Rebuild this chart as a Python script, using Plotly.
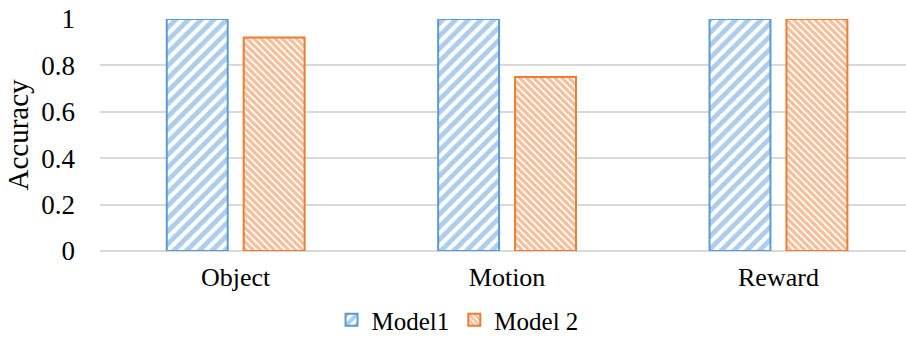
import plotly.graph_objects as go

categories = ["Object", "Motion", "Reward"]
model1 = [1.0, 1.0, 1.0]
model2 = [0.92, 0.75, 1.0]
y_ticks = [0, 0.2, 0.4, 0.6, 0.8, 1]
y_tick_labels = ["0", "0.2", "0.4", "0.6", "0.8", "1"]

BLUE = "#5B9BD5"
ORANGE = "#ED7D31"
FONT = "Liberation Serif"
XF = dict(family=FONT, size=26, color="#000000")
LF = dict(family=FONT, size=25, color="#000000")
YF = dict(family=FONT, size=27, color="#000000")
TF = dict(family=FONT, size=29, color="#000000")

fig = go.Figure()
fig.add_trace(go.Bar(
    x=categories, y=model1, name="Model1",
    marker=dict(color="white", line=dict(color=BLUE, width=2),
                pattern=dict(shape="/", fgcolor=BLUE, bgcolor="white",
                             size=9, solidity=0.55, fillmode="overlay")),
))
fig.add_trace(go.Bar(
    x=categories, y=model2, name="Model 2",
    marker=dict(color="white", line=dict(color=ORANGE, width=2),
                pattern=dict(shape="\\", fgcolor=ORANGE, bgcolor="white",
                             size=5, solidity=0.65, fillmode="overlay")),
))

fig.update_layout(
    width=906, height=346,
    margin=dict(l=100, r=0, t=19, b=95, autoexpand=False),
    paper_bgcolor="white", plot_bgcolor="white",
    barmode="group", bargap=0.433, bargroupgap=0.208,
    font=XF,
    showlegend=True,
    legend=dict(orientation="h", xref="container", yref="container",
                x=0.505, xanchor="center", y=0.075, yanchor="middle",
                font=LF, itemwidth=30, traceorder="normal"),
)
fig.update_xaxes(range=[-0.5, 2.47], showgrid=False, showline=False,
                 ticks="", ticklabelstandoff=8, automargin=False, tickfont=XF)
fig.update_yaxes(range=[0, 1], tickvals=y_ticks, ticktext=y_tick_labels,
                 showgrid=True, gridcolor="#D9D9D9", gridwidth=1.5,
                 zeroline=True, zerolinecolor="#D9D9D9", zerolinewidth=1.5,
                 showline=False, ticks="", ticklabelstandoff=24,
                 automargin=False, tickfont=YF,
                 title=dict(text="Accuracy", standoff=4, font=TF))

fig.write_html("out.html", config={"displayModeBar": False},
               post_script="document.body.style.margin='0';document.body.style.overflow='hidden';")
